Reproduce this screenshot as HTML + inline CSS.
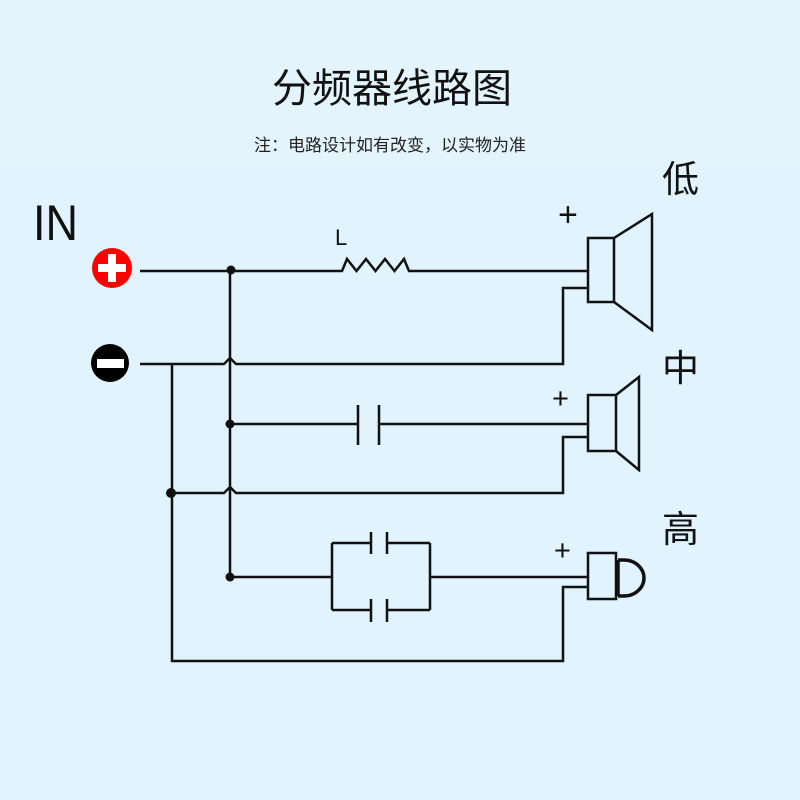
<!DOCTYPE html>
<html><head><meta charset="utf-8"><style>
html,body{margin:0;padding:0;background:#e1f3fd;}
svg{display:block}
</style></head><body>
<svg width="800" height="800" viewBox="0 0 800 800" xmlns="http://www.w3.org/2000/svg">
<rect width="800" height="800" fill="#e1f3fd"/>
<rect x="0" y="0" width="800" height="165" fill="#e3f4fd"/>
<text x="392" y="102" text-anchor="middle" font-family="'Liberation Sans','Noto Sans CJK SC',sans-serif" font-size="40" fill="#111">分频器线路图</text>
<text x="390" y="151" text-anchor="middle" font-family="'Liberation Sans','Noto Sans CJK SC',sans-serif" font-size="17" fill="#222">注：电路设计如有改变，以实物为准</text>
<text x="33" y="240" font-family="'Liberation Sans',sans-serif" font-size="50" fill="#111" transform="translate(33 0) scale(0.9 1) translate(-33 0)">IN</text>
<g font-family="'Liberation Sans','Noto Sans CJK SC',sans-serif" font-size="37" fill="#111">
<text x="662" y="192">低</text><text x="662" y="381">中</text><text x="662" y="542">高</text>
</g>
<g font-family="'Liberation Sans',sans-serif" fill="#111">
<text x="335" y="245" font-size="22">L</text>
<text x="558" y="226" font-size="34">+</text>
<text x="552" y="408" font-size="29">+</text>
<text x="554" y="560" font-size="29">+</text>
</g>
<circle cx="112" cy="268" r="20" fill="#f00"/>
<rect x="98" y="264" width="28" height="8" fill="#fff"/><rect x="108" y="254" width="8" height="28" fill="#fff"/>
<circle cx="110" cy="363" r="19" fill="#000"/>
<rect x="97" y="359" width="27" height="9" fill="#fff"/>
<g stroke="#111" stroke-width="2.5" fill="none">
<path d="M140 271 H342 l5 -12 l9.5 12 l9.5 -12 l9.5 12 l9.5 -12 l9.5 12 l9.5 -12 l5 12 H588"/>
<path d="M140 364 H224 l6 -6 l6 6 H563 V288 H588"/>
<path d="M230 271 V577"/>
<path d="M172 364 V661 H563 V587 H588"/>
<path d="M230 424 H358 M379 424 H588"/>
<path d="M358 405 V445 M379 405 V445"/>
<path d="M172 493 H224 l6 -6 l6 6 H563 V437 H588"/>
<path d="M230 577 H332 M430 577 H588"/>
<path d="M332 543 V610 M430 543 V610"/>
<path d="M332 543 H371 M387 543 H430 M332 610 H371 M387 610 H430"/>
<path d="M371 532 V554 M387 532 V554 M371 599 V622 M387 599 V622"/>
<rect x="588" y="238" width="26" height="64"/>
<path d="M614 238 L652 214 V330 L614 302"/>
<rect x="588" y="395" width="28" height="56"/>
<path d="M616 395 L639 377 V470 L616 451"/>
<rect x="588" y="553" width="28" height="46"/>
<path d="M618 560 V596 M618 560 H624 A20 18 0 0 1 624 596 H618" stroke-width="3.5"/>
</g>
<g fill="#111">
<circle cx="231" cy="270" r="4.5"/><circle cx="230" cy="424" r="4.5"/>
<circle cx="171" cy="493" r="5"/><circle cx="230" cy="577" r="4.5"/>
</g>
</svg>
</body></html>
